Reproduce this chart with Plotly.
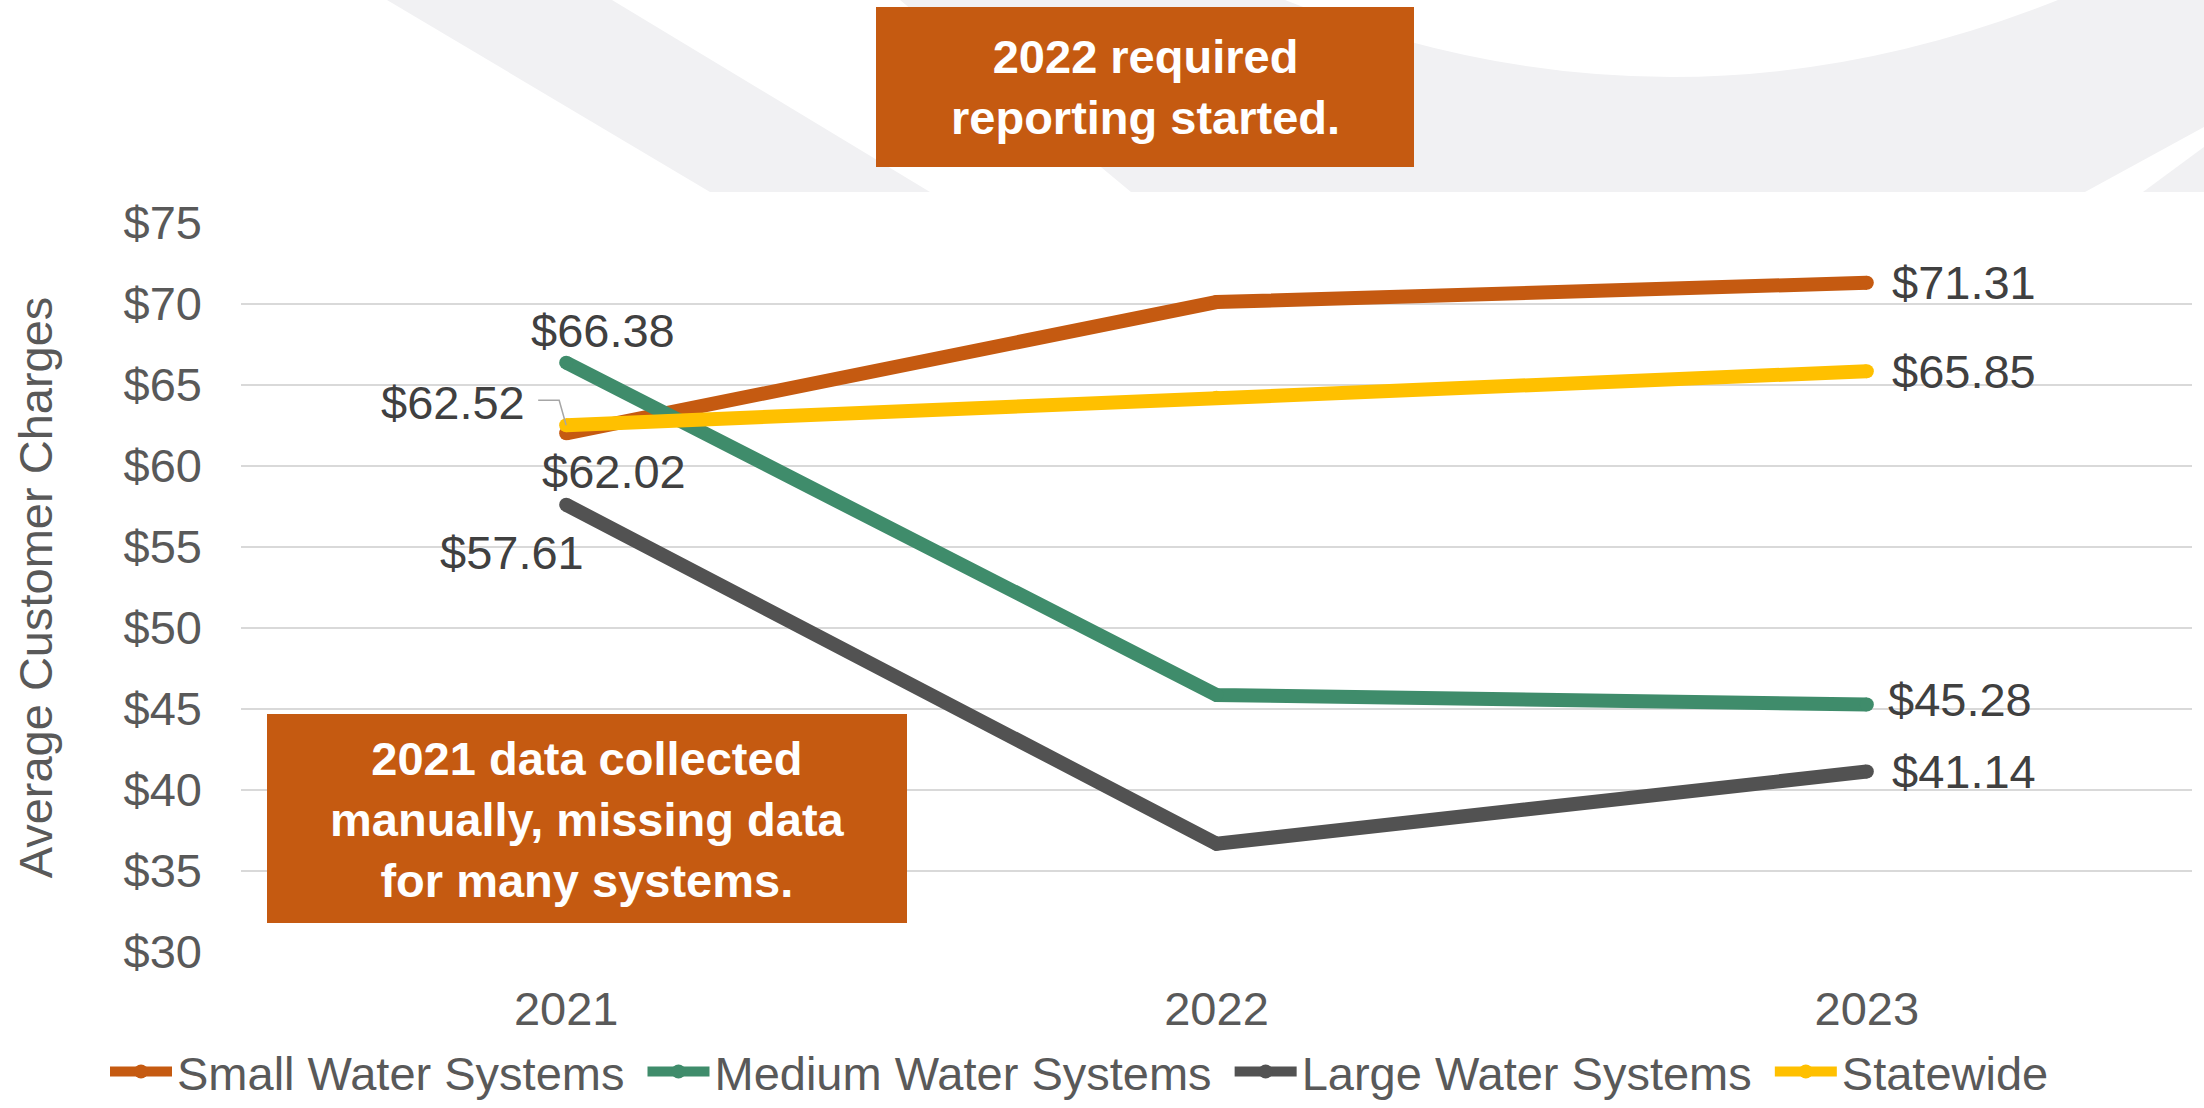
import plotly.graph_objects as go

# ---------------- data ----------------
years = ["2021", "2022", "2023"]
small = [62.02, 70.12, 71.31]
medium = [66.38, 45.87, 45.28]
large = [57.61, 36.68, 41.14]
statewide = [62.52, 64.22, 65.85]

series_names = ["Small Water Systems", "Medium Water Systems",
                "Large Water Systems", "Statewide"]
series_values = [small, medium, large, statewide]
series_colors = ["#C55A11", "#3F8C6B", "#525252", "#FFC000"]

y_ticks = [30, 35, 40, 45, 50, 55, 60, 65, 70, 75]
DOLLAR = "&#36;"
y_ticktext = [f"{DOLLAR}{v}" for v in y_ticks]
y_title = "Average Customer Charges"
note_top = "2022 required<br>reporting started."
note_bottom = "2021 data collected<br>manually, missing data<br>for many systems."

# ---------------- layout geometry ----------------
W, H = 2204, 1108
L, R, T, B = 241, 12, 223, 156
PW = W - L - R
PH = H - T - B
FONT = "Liberation Sans, Arial, sans-serif"
FS = 47


def px(x):
    return (x - L) / PW


def py(y):
    return (H - B - y) / PH


def pt(x, y):
    return f"{px(x):.5f},{py(y):.5f}"


fig = go.Figure()

for name, vals, col in zip(series_names, series_values, series_colors):
    fig.add_trace(go.Scatter(
        x=years, y=vals, name=name + "\u00a0", mode="lines+markers",
        line=dict(color=col, width=14),
        marker=dict(color=col, size=14, line=dict(width=0)),
        hoverinfo="skip",
    ))

# ---------------- data labels ----------------
# (series index, year index, xshift, yshift, xanchor)
label_specs = [
    (1, 0, 37, 32, "center"),
    (3, 0, -39, 23, "right"),
    (0, 0, 48, -38, "center"),
    (2, 0, -54, -48, "center"),
    (0, 2, 23, 0, "left"),
    (3, 2, 23, 0, "left"),
    (1, 2, 19, 5, "left"),
    (2, 2, 23, 0, "left"),
]
annotations = []
for si, yi, xs, ys, xa in label_specs:
    v = series_values[si][yi]
    annotations.append(dict(
        x=yi, y=v, xref="x", yref="y", text=f"{DOLLAR}{v:.2f}",
        showarrow=False, xshift=xs, yshift=ys, xanchor=xa, yanchor="middle",
        font=dict(family=FONT, size=FS, color="#404040"),
    ))

# callout texts
annotations.append(dict(
    x=px(1145), y=py(87), xref="paper", yref="paper", text=note_top,
    showarrow=False, xanchor="center", yanchor="middle",
    font=dict(family=FONT, size=FS, color="white", weight="bold"),
))
annotations.append(dict(
    x=px(587), y=py(819), xref="paper", yref="paper", text=note_bottom,
    showarrow=False, xanchor="center", yanchor="middle",
    font=dict(family=FONT, size=FS, color="white", weight="bold"),
))

# ---------------- shapes ----------------
GRAY = "#F1F1F3"
shapes = [
    dict(type="path", xref="paper", yref="paper", layer="below",
         path=f"M{pt(387,0)} L{pt(612,0)} L{pt(930,192)} L{pt(710,192)} Z",
         fillcolor=GRAY, line=dict(width=0)),
    dict(type="path", xref="paper", yref="paper", layer="below",
         path=(f"M{pt(900,0)} L{pt(1285,0)} Q{pt(1671,154)} {pt(2058,0)} "
               f"L{pt(2204,0)} L{pt(2204,127)} L{pt(2085,192)} L{pt(1131,192)} Z"),
         fillcolor=GRAY, line=dict(width=0)),
    dict(type="path", xref="paper", yref="paper", layer="below",
         path=f"M{pt(2204,147)} L{pt(2143,192)} L{pt(2204,192)} Z",
         fillcolor=GRAY, line=dict(width=0)),
    dict(type="rect", xref="paper", yref="paper", layer="above",
         x0=px(876), x1=px(1414), y0=py(7), y1=py(167),
         fillcolor="#C55A11", line=dict(width=0)),
    dict(type="rect", xref="paper", yref="paper", layer="above",
         x0=px(267), x1=px(907), y0=py(714), y1=py(923),
         fillcolor="#C55A11", line=dict(width=0)),
    # leader line for the Statewide 2021 label
    dict(type="path", xref="x", yref="y", xsizemode="pixel", ysizemode="pixel",
         xanchor=0, yanchor=statewide[0], layer="above",
         path="M-28,25 L-7,25 L0,0",
         line=dict(color="#A6A6A6", width=1.5)),
]

fig.update_layout(
    width=W, height=H,
    margin=dict(l=L, r=R, t=T, b=B, autoexpand=False),
    paper_bgcolor="white", plot_bgcolor="white",
    font=dict(family=FONT, size=FS, color="#595959"),
    showlegend=True,
    legend=dict(orientation="h", x=px(105), xanchor="left", y=py(1072),
                yanchor="middle", font=dict(family=FONT, size=FS, color="#595959"),
                itemwidth=62, bgcolor="rgba(0,0,0,0)", traceorder="normal"),
    xaxis=dict(type="category", range=[-0.5, 2.5], showgrid=False, zeroline=False,
               showline=False, ticks="", ticklabelstandoff=25,
               tickfont=dict(family=FONT, size=FS, color="#595959"), automargin=False),
    yaxis=dict(range=[30, 75], tickvals=y_ticks, ticktext=y_ticktext, showgrid=True,
               gridcolor="#D9D9D9", gridwidth=1.5, zeroline=False, showline=False,
               ticks="", ticklabelstandoff=38,
               tickfont=dict(family=FONT, size=FS, color="#595959"),
               title=dict(text=y_title, standoff=56,
                          font=dict(family=FONT, size=FS, color="#595959")),
               automargin=False),
    annotations=annotations,
    shapes=shapes,
)

fig.write_html("out.html", config={"displayModeBar": False},
               post_script="document.body.style.margin='0';document.body.style.overflow='hidden';")
